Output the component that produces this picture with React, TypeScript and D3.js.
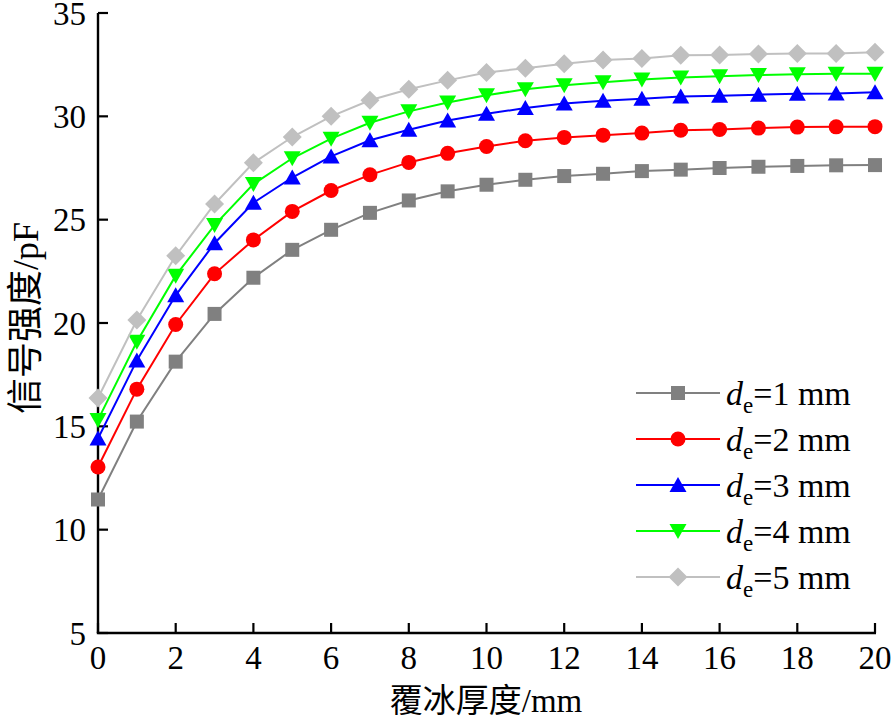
import React from "react";
import * as d3 from "d3";

const thickness = d3.range(0, 21);
const seriesNames = ["1", "2", "3", "4", "5"];
const s1 = [11.46, 15.23, 18.13, 20.44, 22.19, 23.54, 24.51, 25.33, 25.93, 26.37, 26.69, 26.93, 27.11, 27.22, 27.35, 27.42, 27.5, 27.56, 27.6, 27.63, 27.64];
const s2 = [13.03, 16.8, 19.93, 22.38, 24.02, 25.4, 26.41, 27.17, 27.77, 28.21, 28.54, 28.82, 28.98, 29.09, 29.19, 29.33, 29.36, 29.43, 29.48, 29.49, 29.5];
const s3 = [14.41, 18.19, 21.34, 23.86, 25.82, 27.04, 28.06, 28.84, 29.35, 29.8, 30.12, 30.4, 30.62, 30.75, 30.85, 30.96, 31.0, 31.05, 31.09, 31.1, 31.16];
const s4 = [15.31, 19.09, 22.29, 24.74, 26.72, 27.97, 28.92, 29.69, 30.24, 30.67, 31.02, 31.31, 31.5, 31.65, 31.78, 31.88, 31.94, 32.0, 32.04, 32.06, 32.06];
const s5 = [16.37, 20.14, 23.25, 25.76, 27.75, 29.0, 30.0, 30.78, 31.31, 31.74, 32.12, 32.33, 32.55, 32.72, 32.8, 32.95, 32.97, 33.02, 33.04, 33.04, 33.1];
const allSeries = [s1, s2, s3, s4, s5];
const colors = ["#808080", "#ff0000", "#0000ff", "#00ff00", "#c0c0c0"];
const markers = ["square", "circle", "up", "down", "diamond"];
const xTicks = [0, 2, 4, 6, 8, 10, 12, 14, 16, 18, 20];
const yTicks = [5, 10, 15, 20, 25, 30, 35];
const xLabel = "覆冰厚度/mm";
const yLabel = "信号强度/pF";

const FONT = "'Liberation Serif', 'Times New Roman', 'Noto Sans CJK SC', serif";

function Marker({ type, x, y, color }: { type: string; x: number; y: number; color: string }) {
  if (type === "square") return <rect x={x - 7} y={y - 7} width={14} height={14} fill={color} />;
  if (type === "circle") return <circle cx={x} cy={y} r={7.5} fill={color} />;
  if (type === "up") return <path d={`M${x},${y - 8}L${x + 8.5},${y + 7}L${x - 8.5},${y + 7}Z`} fill={color} />;
  if (type === "down") return <path d={`M${x},${y + 8}L${x + 8.5},${y - 7}L${x - 8.5},${y - 7}Z`} fill={color} />;
  return <path d={`M${x},${y - 9.5}L${x + 9.5},${y}L${x},${y + 9.5}L${x - 9.5},${y}Z`} fill={color} />;
}

export default function App() {
  const x = d3.scaleLinear().domain([0, 20]).range([98, 875]);
  const y = d3.scaleLinear().domain([5, 35]).range([633, 13]);
  const line = d3
    .line<number>()
    .x((_, i) => x(thickness[i]))
    .y((d) => y(d));

  const legendX0 = 636;
  const legendX1 = 720;
  const legendY0 = 393;
  const legendDy = 46;

  return (
    <svg
      width={891}
      height={718}
      style={{ position: "absolute", left: 0, top: 0, background: "#fff" }}
      fontFamily={FONT}
    >
      <rect width={891} height={718} fill="#fff" />
      {/* axes */}
      <line x1={x(0)} x2={x(0)} y1={y(35)} y2={y(5)} stroke="#000" strokeWidth={2.4} />
      <line x1={x(0) - 1.2} x2={x(20) + 1} y1={y(5)} y2={y(5)} stroke="#000" strokeWidth={2.4} />
      {yTicks.map((t) => (
        <g key={"y" + t}>
          <line x1={x(0)} x2={x(0) + 10} y1={y(t)} y2={y(t)} stroke="#000" strokeWidth={2.2} />
          <text x={86} y={y(t) + 11.5} textAnchor="end" fontSize={33} fill="#000">
            {t}
          </text>
        </g>
      ))}
      {xTicks.map((t) => (
        <g key={"x" + t}>
          <line x1={x(t)} x2={x(t)} y1={y(5)} y2={y(5) - 10} stroke="#000" strokeWidth={2.2} />
          <text x={x(t)} y={669} textAnchor="middle" fontSize={33} fill="#000">
            {t}
          </text>
        </g>
      ))}
      <text x={486} y={712} textAnchor="middle" fontSize={33} fill="#000">
        {xLabel}
      </text>
      <text
        transform={`translate(38,318) rotate(-90)`}
        textAnchor="middle"
        fontSize={36}
        fill="#000"
      >
        {yLabel}
      </text>
      {/* series */}
      {allSeries.map((s, si) => (
        <g key={"s" + si}>
          <path d={line(s) || ""} fill="none" stroke={colors[si]} strokeWidth={2} />
          {s.map((v, i) => (
            <Marker key={i} type={markers[si]} x={x(thickness[i])} y={y(v)} color={colors[si]} />
          ))}
        </g>
      ))}
      {/* legend */}
      {seriesNames.map((n, i) => {
        const cy = legendY0 + i * legendDy;
        return (
          <g key={"l" + i}>
            <line x1={legendX0} x2={legendX1} y1={cy} y2={cy} stroke={colors[i]} strokeWidth={2} />
            <Marker type={markers[i]} x={(legendX0 + legendX1) / 2} y={cy} color={colors[i]} />
            <text x={726} y={cy + 12} fontSize={34} fill="#000">
              <tspan fontStyle="italic">d</tspan>
              <tspan fontSize={23} dy={8}>e</tspan>
              <tspan dy={-8}>{`=${n} mm`}</tspan>
            </text>
          </g>
        );
      })}
    </svg>
  );
}
